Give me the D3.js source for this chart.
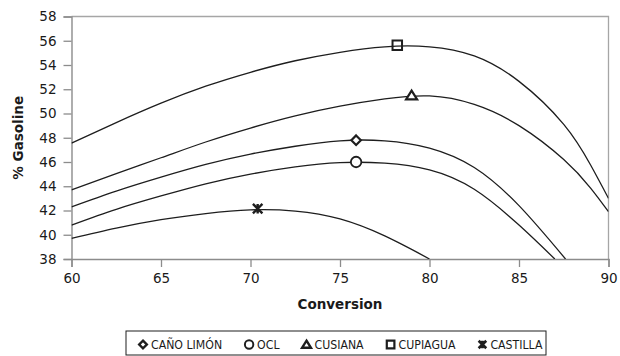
<!DOCTYPE html>
<html>
<head>
<meta charset="utf-8">
<script src="https://cdn.jsdelivr.net/npm/d3@7"></script>
<style>
  html, body { margin: 0; padding: 0; background: #fff; }
  svg { display: block; }
  text { font-family: "DejaVu Sans", Verdana, sans-serif; fill: #1a1a1a; }
</style>
</head>
<body>
<svg id="chart" width="620" height="356"></svg>
<script>
// Gasoline yield (%) versus conversion for five crudes
const seriesNames = ["CAÑO LIMÓN", "OCL", "CUSIANA", "CUPIAGUA", "CASTILLA"];
const seriesSymbols = ["diamond", "circle", "triangle", "square", "star"];

const canoLimonX = [60, 62.5, 65, 67.5, 70, 72.5, 75, 77.5, 80, 82.5, 85, 87.6];
const canoLimonY = [42.3, 43.6, 44.75, 45.8, 46.65, 47.3, 47.75, 47.75, 47.15, 45.55, 42.4, 38.0];

const oclX = [60, 62.5, 65, 67.5, 70, 72.5, 75, 77.5, 80, 82.5, 85, 87.0];
const oclY = [40.8, 42.1, 43.2, 44.2, 45.0, 45.6, 45.95, 45.9, 45.35, 43.75, 40.8, 38.0];

const cusianaX = [60, 62.5, 65, 67.5, 70, 72.5, 75, 77.5, 80, 82.5, 85, 87.5, 89, 90];
const cusianaY = [43.7, 45.05, 46.35, 47.65, 48.8, 49.8, 50.6, 51.2, 51.45, 50.75, 49.0, 46.2, 43.85, 41.9];

const cupiaguaX = [60, 62.5, 65, 67.5, 70, 72.5, 75, 77.5, 80, 82.5, 85, 87.5, 89, 90];
const cupiaguaY = [47.55, 49.25, 50.85, 52.25, 53.4, 54.35, 55.05, 55.5, 55.5, 54.75, 52.65, 49.1, 45.75, 43.0];

const castillaX = [60, 62.5, 65, 67.5, 70, 72.5, 75, 77.5, 80];
const castillaY = [39.7, 40.55, 41.25, 41.75, 42.05, 41.95, 41.3, 39.9, 38.0];

// Highlighted point on each curve (maximum yield)
const markerX = [75.9, 75.9, 79.0, 78.2, 70.4];
const markerY = [47.8, 46.0, 51.5, 55.63, 42.15];

const xTicks = [60, 65, 70, 75, 80, 85, 90];
const yTicks = [38, 40, 42, 44, 46, 48, 50, 52, 54, 56, 58];

const curvesX = [canoLimonX, oclX, cusianaX, cupiaguaX, castillaX];
const curvesY = [canoLimonY, oclY, cusianaY, cupiaguaY, castillaY];

const svg = d3.select("#chart");
const margin = { left: 71.5, right: 11.5, top: 16.5, bottom: 97 };
const W = 620, H = 356;

const x = d3.scaleLinear().domain([60, 90]).range([margin.left, W - margin.right]);
const y = d3.scaleLinear().domain([38, 58]).range([H - margin.bottom, margin.top]);

// Plot frame (top and right edges)
svg.append("path")
  .attr("d", `M${x(60)},${y(58)}H${x(90)}V${y(38)}`)
  .attr("fill", "none")
  .attr("stroke", "#a6a6a6")
  .attr("stroke-width", 1.3);

// Axes
const xAxis = svg.append("g")
  .attr("transform", `translate(0,${y(38)})`)
  .call(d3.axisBottom(x).tickValues(xTicks).tickSize(8).tickPadding(6).tickFormat(d3.format("d")));
const yAxis = svg.append("g")
  .attr("transform", `translate(${x(60)},0)`)
  .call(d3.axisLeft(y).tickValues(yTicks).tickSize(8).tickPadding(7).tickFormat(d3.format("d")));

[xAxis, yAxis].forEach(g => {
  g.select(".domain").attr("stroke", "#8c8c8c").attr("stroke-width", 1.4);
  g.selectAll(".tick line").attr("stroke", "#8c8c8c").attr("stroke-width", 1.3);
  g.selectAll(".tick text")
    .attr("fill", "#1a1a1a")
    .style("font-family", '"DejaVu Sans", Verdana, sans-serif')
    .style("font-size", "13.5px");
});

// Axis titles
svg.append("text")
  .attr("x", (x(60) + x(90)) / 2)
  .attr("y", 309)
  .attr("text-anchor", "middle")
  .style("font-size", "13.5px")
  .style("font-weight", "bold")
  .text("Conversion");

svg.append("text")
  .attr("transform", `translate(23,${(y(38) + y(58)) / 2}) rotate(-90)`)
  .attr("text-anchor", "middle")
  .style("font-size", "13.5px")
  .style("font-weight", "bold")
  .text("% Gasoline");

// Curves
const clipId = "plot-clip";
svg.append("clipPath").attr("id", clipId)
  .append("rect")
  .attr("x", x(60)).attr("y", y(58))
  .attr("width", x(90) - x(60)).attr("height", y(38) - y(58));

const line = d3.line()
  .x(d => x(d[0]))
  .y(d => y(d[1]))
  .curve(d3.curveNatural);

svg.append("g")
  .attr("clip-path", `url(#${clipId})`)
  .selectAll("path")
  .data(curvesX.map((xs, i) => xs.map((v, j) => [v, curvesY[i][j]])))
  .join("path")
  .attr("d", line)
  .attr("fill", "none")
  .attr("stroke", "#1e1e1e")
  .attr("stroke-width", 1.3);

// Marker shapes
function markerPath(type, s) {
  const h = s / 2;
  switch (type) {
    case "diamond": return `M0,${-h}L${h},0L0,${h}L${-h},0Z`;
    case "circle": return d3.arc()({ innerRadius: 0, outerRadius: h, startAngle: 0, endAngle: 2 * Math.PI });
    case "triangle": return `M0,${-h * 0.95}L${h * 1.1},${h * 0.8}L${-h * 1.1},${h * 0.8}Z`;
    case "square": return `M${-h},${-h}H${h}V${h}H${-h}Z`;
    case "star": return `M${-h},${-h}L${h},${h}M${h},${-h}L${-h},${h}M0,${-h}V${h}`;
  }
}
const markerSize = { diamond: 9.5, circle: 10.5, triangle: 10, square: 9.5, star: 9.5 };
const markerFill = { diamond: "#fff", circle: "#fff", triangle: "#fff", square: "none", star: "none" };
const markerStroke = { diamond: 2.2, circle: 1.8, triangle: 2.2, square: 2, star: 2.4 };

function drawMarker(sel, type, scale = 1, sw = 1) {
  sel.append("path")
    .attr("d", markerPath(type, markerSize[type] * scale))
    .attr("fill", markerFill[type])
    .attr("stroke", "#1e1e1e")
    .attr("stroke-width", markerStroke[type] * sw)
    .attr("stroke-linejoin", "miter");
}

seriesSymbols.forEach((type, i) => {
  const g = svg.append("g").attr("transform", `translate(${x(markerX[i])},${y(markerY[i])})`);
  drawMarker(g, type);
});

// Legend
const boxX = 126, boxW = 420, boxY = 331, boxH = 24;
const legend = svg.append("g");
legend.append("rect")
  .attr("x", boxX).attr("y", boxY).attr("width", boxW).attr("height", boxH)
  .attr("fill", "#fff")
  .attr("stroke", "#1e1e1e")
  .attr("stroke-width", 1);
const items = legend.append("g")
  .attr("transform", `translate(${boxX + 12},${boxY + boxH / 2 + 1.5})`);
let cursor = 0;
seriesNames.forEach((name, i) => {
  const it = items.append("g").attr("transform", `translate(${cursor},0)`);
  drawMarker(it.append("g").attr("transform", "translate(5,0)"), seriesSymbols[i], 0.8, 1.1);
  const t = it.append("text")
    .attr("x", 13)
    .attr("y", 4.4)
    .style("font-family", '"DejaVu Sans Condensed", "DejaVu Sans", sans-serif')
    .style("font-stretch", "condensed")
    .style("font-size", "12.2px")
    .text(name);
  cursor += 13 + t.node().getComputedTextLength() + 22;
});
</script>
</body>
</html>
